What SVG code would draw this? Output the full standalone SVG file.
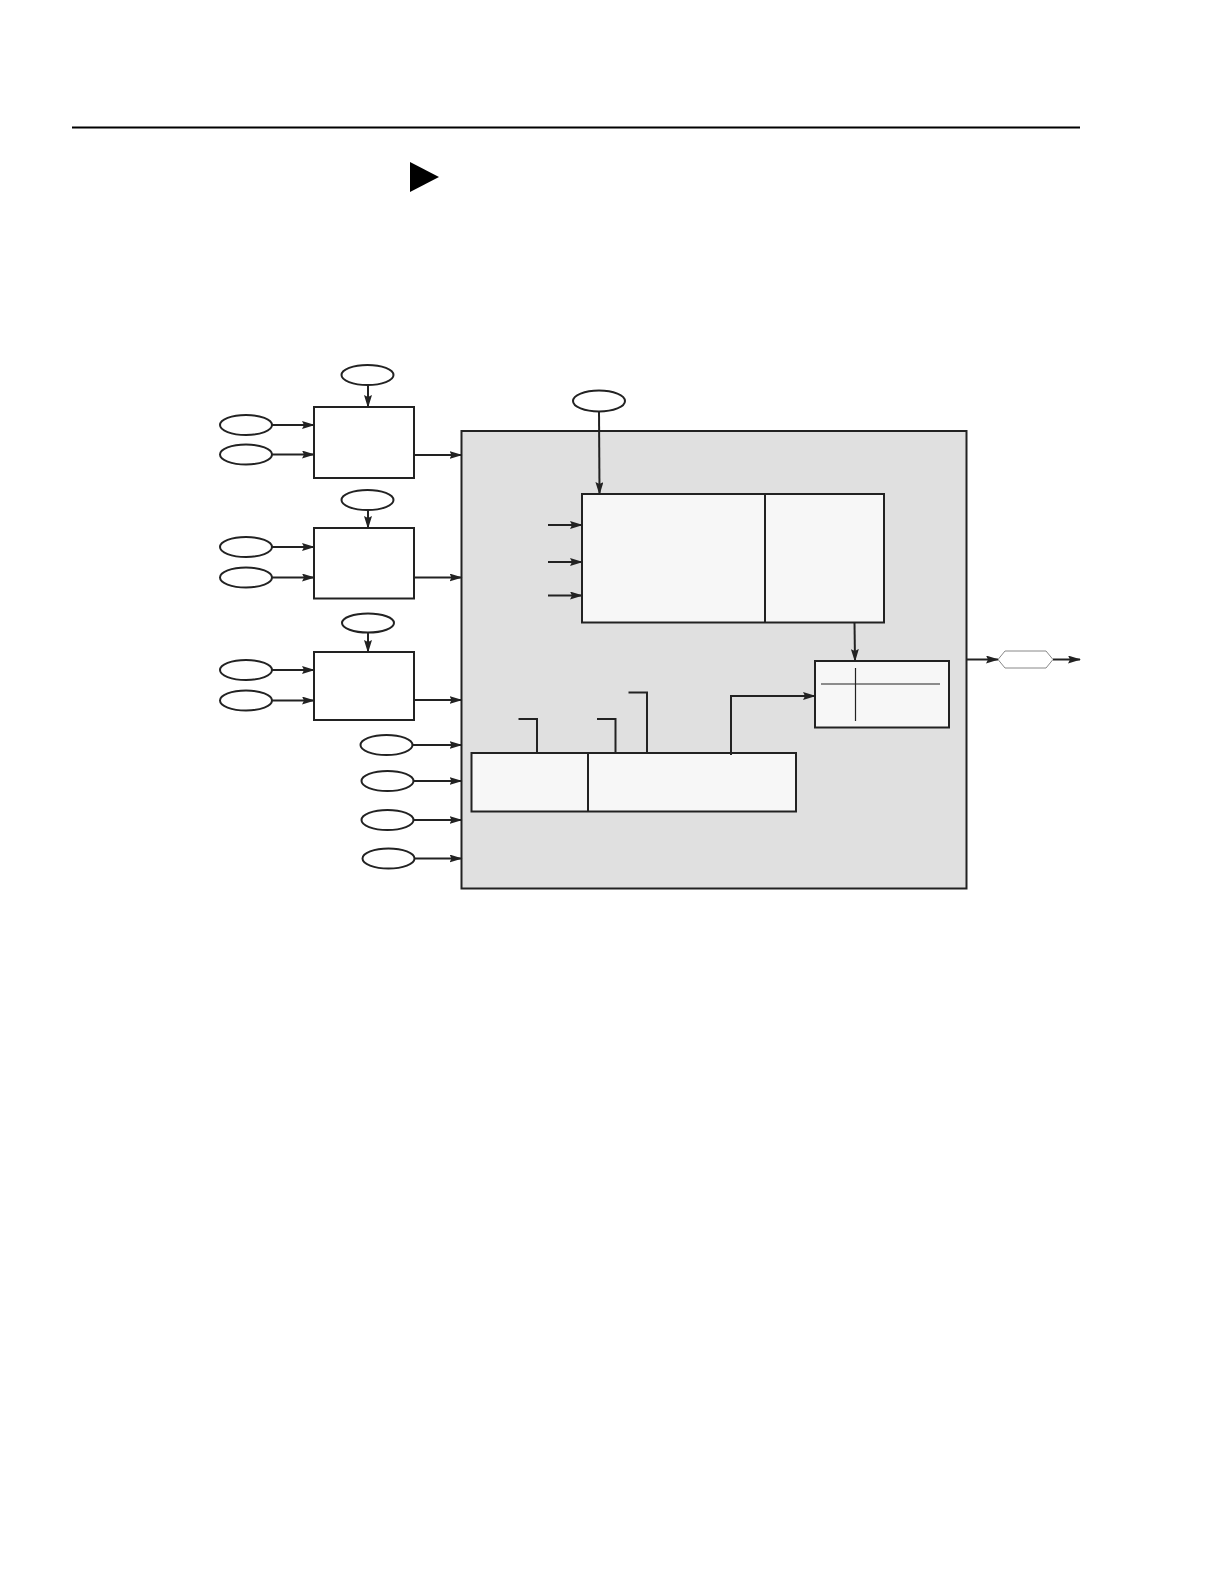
<svg xmlns="http://www.w3.org/2000/svg" width="1224" height="1584" viewBox="0 0 1224 1584">
<style>
.ln{stroke:#222;stroke-width:2;fill:none}
.ar{stroke:#222;stroke-width:2;fill:none;marker-end:url(#ah)}
.el{stroke:#222;stroke-width:2;fill:#fff}
.bx{stroke:#222;stroke-width:2;fill:#fff}
.ib{stroke:#222;stroke-width:2;fill:#f7f7f7}
.thin{stroke:#222;stroke-width:1.2;fill:none}
</style>
<defs>
<marker id="ah" markerWidth="13" markerHeight="8" refX="12" refY="4" orient="auto" markerUnits="userSpaceOnUse">
<path d="M0,0 L13,4 L0,8 L2,4 z" fill="#222"/>
</marker>
</defs>
<rect width="1224" height="1584" fill="#fff"/>
<g id="header">
<line x1="72" y1="127.5" x2="1080" y2="127.5" stroke="#000" stroke-width="2"/>
<polygon points="410,162 439,177 410,192" fill="#000"/>
</g>
<g id="main">
<rect x="461.5" y="431" width="505" height="457.5" fill="#e0e0e0" stroke="#222" stroke-width="2"/>
</g>
<g id="unit1">
<rect class="bx" x="314" y="407" width="100" height="71"/>
<ellipse class="el" cx="367.5" cy="375" rx="26" ry="10"/>
<ellipse class="el" cx="246" cy="425" rx="26" ry="10"/>
<ellipse class="el" cx="246" cy="454.5" rx="26" ry="10"/>
</g>
<g id="unit2">
<rect class="bx" x="314" y="528" width="100" height="70.5"/>
<ellipse class="el" cx="367.5" cy="500" rx="26" ry="10"/>
<ellipse class="el" cx="246" cy="547" rx="26" ry="10"/>
<ellipse class="el" cx="246" cy="577.5" rx="26" ry="10"/>
</g>
<g id="unit3">
<rect class="bx" x="314" y="652" width="100" height="68"/>
<ellipse class="el" cx="368" cy="623" rx="26" ry="9.5"/>
<ellipse class="el" cx="246" cy="670" rx="26" ry="10"/>
<ellipse class="el" cx="246" cy="700.5" rx="26" ry="10"/>
</g>
<g id="inputs">
<ellipse class="el" cx="386.5" cy="745" rx="26" ry="10"/>
<ellipse class="el" cx="387.5" cy="781" rx="26" ry="10"/>
<ellipse class="el" cx="387.5" cy="820" rx="26" ry="10"/>
<ellipse class="el" cx="388.5" cy="858.5" rx="26" ry="10"/>
<ellipse class="el" cx="599" cy="401" rx="26" ry="10.5"/>
</g>
<g id="core">
<rect class="ib" x="582" y="494" width="302" height="128.5"/>
<line class="ln" x1="765" y1="494" x2="765" y2="622.5"/>
</g>
<g id="bottomunit">
<rect class="ib" x="471.5" y="753" width="324.5" height="58.5"/>
<line class="ln" x1="588" y1="753" x2="588" y2="811.5"/>
</g>
<g id="outunit">
<rect class="ib" x="815" y="661" width="134" height="66.5"/>
<line class="thin" x1="821" y1="684" x2="940" y2="684"/>
<line class="thin" x1="855.5" y1="668" x2="855.5" y2="721"/>
</g>
<g id="outport">
<polygon points="998,659.5 1005,651 1046,651 1053,659.5 1046,668 1005,668" fill="#fff" stroke="#888" stroke-width="1"/>
</g>
<g id="connectors">
<line class="ar" x1="272" y1="425" x2="314" y2="425"/>
<line class="ar" x1="272" y1="454.5" x2="314" y2="454.5"/>
<line class="ar" x1="368" y1="385" x2="368" y2="407"/>
<line class="ar" x1="414" y1="455" x2="461.5" y2="455"/>
<line class="ar" x1="272" y1="547" x2="314" y2="547"/>
<line class="ar" x1="272" y1="577.5" x2="314" y2="577.5"/>
<line class="ar" x1="368" y1="510" x2="368" y2="528"/>
<line class="ar" x1="414" y1="577.5" x2="461.5" y2="577.5"/>
<line class="ar" x1="272" y1="670" x2="314" y2="670"/>
<line class="ar" x1="272" y1="700.5" x2="314" y2="700.5"/>
<line class="ar" x1="368" y1="632.5" x2="368" y2="652"/>
<line class="ar" x1="414" y1="700" x2="461.5" y2="700"/>
<line class="ar" x1="412.5" y1="745" x2="461.5" y2="745"/>
<line class="ar" x1="413.5" y1="781" x2="461.5" y2="781"/>
<line class="ar" x1="413.5" y1="820" x2="461.5" y2="820"/>
<line class="ar" x1="414.5" y1="858.5" x2="461.5" y2="858.5"/>
<line class="ar" x1="599" y1="411.5" x2="599.5" y2="494"/>
<line class="ar" x1="548" y1="525" x2="582" y2="525"/>
<line class="ar" x1="548" y1="562" x2="582" y2="562"/>
<line class="ar" x1="548" y1="595.5" x2="582" y2="595.5"/>
<line class="ar" x1="854.5" y1="622.5" x2="855" y2="661"/>
<polyline class="ln" points="518.5,719 537,719 537,753"/>
<polyline class="ln" points="597,719 615.5,719 615.5,753"/>
<polyline class="ln" points="628.5,692.5 647,692.5 647,753"/>
<polyline class="ar" points="731,755 731,696 815,696"/>
<line class="ar" x1="966.5" y1="659.5" x2="998" y2="659.5"/>
<line class="ar" x1="1053" y1="659.5" x2="1080" y2="659.5"/>
</g>
</svg>
